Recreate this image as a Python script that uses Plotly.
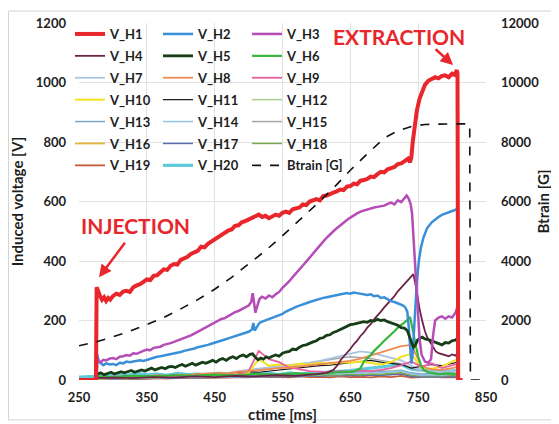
import plotly.graph_objects as go

# ---------------- data ----------------
# major induced-voltage traces: (ctime [ms], voltage [V]) pairs
H1 = [(250, 0), (274, 0), (275, 0), (276, 312), (278, 296), (281, 283), (284, 270), (287, 278), (290, 266),
      (293, 276), (296, 270), (300, 282), (305, 290), (310, 286), (315, 297), (320, 300), (325, 296), (330, 312),
      (335, 318), (340, 322), (345, 330), (350, 338), (355, 336), (360, 350), (365, 352), (370, 360), (375, 372),
      (380, 370), (385, 384), (390, 390), (395, 388), (400, 404), (405, 410), (410, 414), (415, 424), (420, 428),
      (425, 434), (430, 448), (435, 446), (440, 458), (445, 466), (450, 470), (455, 482), (460, 486), (465, 494),
      (470, 502), (475, 506), (480, 518), (485, 520), (490, 530), (495, 534), (500, 540), (505, 546), (510, 550),
      (515, 556), (520, 548), (525, 552), (530, 544), (535, 550), (540, 556), (545, 552), (550, 562), (555, 566),
      (560, 562), (565, 574), (570, 578), (575, 580), (580, 590), (585, 588), (590, 600), (595, 604), (600, 608),
      (605, 604), (610, 618), (615, 620), (620, 626), (625, 630), (630, 634), (635, 640), (640, 638), (645, 650),
      (650, 652), (655, 660), (660, 658), (665, 670), (670, 672), (675, 676), (680, 684), (685, 682), (690, 692),
      (695, 700), (700, 698), (705, 708), (710, 712), (715, 716), (720, 726), (725, 728), (730, 736), (735, 744),
      (738, 732), (740, 750), (742, 800), (745, 860), (748, 905), (752, 945), (756, 972), (760, 992), (765, 1006),
      (770, 1012), (775, 1018), (780, 1014), (785, 1022), (790, 1024), (795, 1018), (800, 1030), (804, 1026),
      (807, 1042), (808, 1030), (809, 0), (815, 0)]

H2 = [(276, 0), (277, 86), (279, 62), (282, 56), (286, 50), (290, 56), (295, 52), (300, 54), (305, 50), (310, 58),
      (315, 56), (320, 62), (325, 60), (330, 62), (335, 64), (340, 66), (345, 64), (350, 68), (355, 72), (360, 74),
      (365, 78), (370, 80), (375, 82), (380, 84), (385, 88), (390, 90), (395, 92), (400, 94), (405, 98), (410, 100),
      (415, 104), (420, 106), (425, 110), (430, 112), (435, 116), (440, 118), (445, 122), (450, 125), (455, 128),
      (460, 132), (465, 136), (470, 140), (475, 144), (480, 148), (485, 152), (490, 155), (495, 158), (500, 162),
      (505, 170), (507, 192), (509, 166), (512, 178), (516, 192), (520, 196), (525, 200), (530, 205), (535, 208),
      (540, 212), (545, 218), (550, 222), (555, 230), (560, 236), (565, 240), (570, 246), (575, 250), (580, 255),
      (585, 258), (590, 262), (595, 266), (600, 270), (605, 272), (610, 276), (615, 278), (620, 280), (625, 284),
      (630, 285), (635, 286), (640, 288), (645, 292), (650, 290), (655, 294), (660, 292), (665, 290), (670, 290),
      (675, 286), (680, 288), (685, 282), (690, 284), (695, 276), (700, 278), (705, 270), (710, 265), (715, 262),
      (720, 258), (725, 252), (728, 250), (731, 244), (734, 230), (736, 180), (738, 100), (740, 55), (742, 90),
      (744, 170), (746, 260), (748, 330), (751, 400), (754, 445), (758, 480), (763, 510), (770, 530), (775, 540),
      (780, 548), (785, 555), (790, 560), (795, 565), (800, 568), (805, 572), (808, 578), (809, 0), (815, 0)]

H3 = [(276, 0), (277, 72), (279, 64), (282, 60), (286, 68), (290, 66), (295, 72), (300, 74), (305, 70), (310, 78),
      (315, 80), (320, 84), (325, 82), (330, 90), (335, 88), (340, 94), (345, 98), (350, 102), (355, 100), (360, 108),
      (365, 110), (370, 112), (375, 118), (380, 120), (385, 124), (390, 128), (395, 132), (400, 136), (405, 140),
      (410, 146), (415, 150), (420, 156), (425, 162), (430, 168), (435, 174), (440, 180), (445, 186), (450, 192),
      (455, 200), (460, 205), (465, 208), (470, 215), (475, 222), (480, 228), (485, 232), (490, 238), (495, 244),
      (500, 250), (504, 262), (506, 292), (508, 262), (510, 226), (513, 250), (516, 272), (520, 280), (525, 274),
      (530, 284), (535, 278), (540, 288), (545, 296), (550, 310), (555, 320), (560, 332), (565, 346), (570, 360),
      (575, 372), (580, 385), (585, 398), (590, 412), (595, 426), (600, 440), (605, 452), (610, 465), (615, 478),
      (620, 490), (625, 500), (630, 510), (635, 520), (640, 530), (645, 538), (650, 546), (655, 554), (660, 560),
      (665, 566), (670, 570), (675, 572), (680, 576), (685, 580), (690, 582), (695, 584), (700, 586), (705, 592),
      (710, 596), (715, 590), (720, 604), (725, 598), (730, 612), (733, 620), (736, 610), (739, 590), (741, 560),
      (743, 480), (746, 370), (749, 250), (752, 140), (755, 85), (760, 62), (765, 58), (769, 70), (772, 150),
      (775, 200), (780, 210), (785, 214), (790, 206), (795, 214), (800, 210), (805, 226), (807, 240), (808, 250),
      (809, 5), (815, 0)]

H4 = [(275, 0), (277, 6), (300, 8), (330, 6), (360, 10), (390, 8), (420, 12), (450, 10), (480, 14), (510, 12),
      (540, 16), (570, 14), (600, 20), (615, 24), (625, 34), (632, 52), (636, 68), (640, 78), (645, 92), (650, 104),
      (655, 120), (660, 132), (665, 148), (670, 160), (675, 176), (680, 188), (685, 204), (690, 216), (695, 230),
      (700, 244), (705, 256), (710, 270), (715, 282), (720, 298), (725, 310), (730, 324), (735, 336), (740, 348),
      (743, 356), (746, 322), (749, 280), (752, 240), (756, 198), (760, 164), (764, 140), (768, 124), (772, 108),
      (776, 96), (780, 90), (785, 86), (790, 84), (795, 80), (800, 86), (805, 82), (808, 90), (809, 0)]

H5 = [(275, 0), (277, 20), (282, 24), (287, 18), (292, 22), (297, 26), (302, 20), (307, 24), (312, 28), (317, 24),
      (322, 28), (327, 32), (332, 26), (337, 30), (342, 34), (347, 30), (352, 36), (357, 40), (362, 34), (367, 38),
      (372, 42), (377, 38), (382, 44), (387, 46), (392, 42), (397, 48), (402, 52), (407, 46), (412, 52), (417, 56),
      (422, 50), (427, 56), (432, 60), (437, 56), (442, 62), (447, 66), (452, 60), (457, 68), (462, 72), (467, 66),
      (472, 74), (477, 78), (482, 72), (487, 80), (492, 84), (497, 78), (502, 86), (506, 88), (510, 76), (514, 68),
      (518, 74), (522, 70), (526, 78), (530, 74), (535, 80), (540, 84), (545, 80), (550, 90), (555, 94), (560, 96),
      (565, 104), (570, 102), (575, 110), (580, 116), (585, 118), (590, 124), (595, 128), (600, 132), (605, 140),
      (610, 142), (615, 150), (620, 152), (625, 160), (630, 164), (635, 170), (640, 176), (645, 180), (650, 186),
      (655, 188), (660, 190), (665, 192), (670, 196), (675, 194), (680, 200), (685, 198), (690, 204), (695, 200),
      (700, 202), (705, 196), (710, 192), (715, 186), (720, 184), (725, 176), (730, 174), (734, 166), (737, 150),
      (740, 128), (743, 110), (746, 118), (749, 134), (752, 140), (756, 144), (760, 138), (765, 136), (770, 132),
      (775, 126), (780, 122), (785, 118), (790, 126), (795, 124), (800, 132), (805, 134), (808, 140), (809, 0)]

H6 = [(275, 0), (277, 12), (300, 10), (330, 14), (360, 12), (390, 16), (420, 14), (450, 18), (480, 16), (510, 20),
      (540, 18), (570, 22), (600, 20), (630, 26), (655, 28), (665, 40), (670, 62), (675, 72), (680, 84), (685, 98),
      (690, 108), (695, 120), (700, 132), (705, 142), (710, 152), (715, 164), (720, 176), (725, 184), (730, 194),
      (735, 204), (738, 212), (741, 180), (744, 140), (747, 110), (750, 80), (754, 50), (758, 34), (765, 26),
      (780, 20), (795, 22), (808, 18), (809, 0)]

# minor traces share one time base
T_MINOR = [250, 275, 276, 290, 305, 320, 335, 350, 365, 380,
           395, 410, 425, 440, 455, 470, 485, 500, 515, 530,
           545, 560, 575, 590, 605, 620, 635, 650, 665, 680,
           695, 710, 725, 740, 755, 770, 785, 800, 808, 809]
V_H7 = [0, 0, 8, 10, 12, 9, 14, 12, 15, 13,
        18, 16, 20, 22, 25, 24, 30, 34, 38, 40,
        44, 48, 52, 58, 64, 72, 80, 88, 96, 92,
        84, 76, 66, 48, 30, 28, 26, 30, 28, 0]
V_H8 = [0, 0, 10, 8, 12, 10, 14, 12, 16, 14,
        18, 16, 20, 22, 24, 22, 28, 30, 34, 38,
        40, 42, 46, 48, 52, 56, 60, 64, 72, 82,
        94, 104, 114, 118, 45, 36, 34, 40, 44, 0]
V_H9 = [0, 0, 6, 8, 6, 10, 8, 10, 12, 10,
        14, 12, 16, 14, 18, 16, 20, 30, 98, 70,
        60, 42, 36, 30, 28, 26, 30, 28, 32, 30,
        34, 40, 50, 62, 44, 56, 40, 50, 54, 0]
V_H10 = [0, 0, 4, 6, 8, 6, 8, 10, 8, 12,
         10, 12, 14, 16, 14, 18, 20, 24, 70, 48,
         52, 48, 55, 52, 58, 55, 60, 58, 62, 56,
         52, 60, 78, 88, 40, 38, 45, 62, 70, 0]
V_H11 = [0, 0, 10, 12, 8, 14, 10, 12, 16, 14,
         18, 15, 20, 18, 22, 20, 24, 28, 26, 30,
         34, 38, 40, 44, 48, 50, 55, 58, 62, 66,
         60, 56, 52, 40, 45, 52, 48, 56, 60, 0]
V_H12 = [0, 0, 5, 8, 6, 10, 7, 9, 11, 8,
         12, 10, 13, 11, 14, 12, 15, 18, 16, 20,
         18, 22, 20, 24, 22, 26, 24, 28, 26, 30,
         28, 32, 34, 22, 18, 20, 18, 22, 20, 0]
V_H13 = [0, 0, 6, 5, 8, 6, 9, 7, 10, 8,
         11, 9, 12, 10, 13, 11, 14, 16, 14, 18,
         16, 20, 18, 22, 20, 24, 22, 26, 28, 26,
         30, 28, 32, 24, 20, 22, 20, 24, 22, 0]
V_H14 = [0, 0, 4, 6, 5, 7, 6, 8, 7, 9,
         8, 10, 9, 11, 10, 12, 11, 14, 12, 16,
         14, 18, 16, 20, 18, 22, 20, 24, 22, 26,
         24, 28, 30, 20, 16, 18, 16, 20, 18, 0]
V_H15 = [0, 0, 8, 10, 9, 12, 10, 13, 11, 14,
         12, 15, 16, 18, 20, 22, 24, 28, 32, 36,
         40, 46, 52, 58, 64, 70, 74, 78, 76, 72,
         66, 60, 55, 40, 30, 28, 26, 28, 30, 0]
V_H16 = [0, 0, 3, 5, 4, 6, 5, 7, 6, 8,
         7, 9, 8, 10, 9, 11, 10, 12, 11, 13,
         12, 14, 13, 15, 14, 16, 15, 17, 16, 18,
         17, 19, 22, 14, 12, 13, 12, 14, 13, 0]
V_H17 = [0, 0, 2, 4, 3, 5, 4, 6, 5, 7,
         6, 8, 7, 9, 8, 10, 9, 11, 10, 12,
         11, 13, 12, 14, 13, 15, 14, 16, 15, 17,
         16, 18, 20, 12, 10, 11, 10, 12, 11, 0]
V_H18 = [0, 0, 4, 5, 7, 6, 8, 7, 9, 8,
         10, 9, 11, 10, 12, 11, 13, 14, 13, 15,
         14, 16, 15, 17, 16, 18, 17, 19, 18, 20,
         19, 21, 24, 16, 14, 15, 14, 16, 15, 0]
V_H19 = [0, 0, 2, 3, 4, 3, 5, 4, 6, 5,
         7, 6, 8, 7, 9, 8, 10, 9, 12, 10,
         11, 9, 12, 10, 11, 9, 12, 10, 11, 9,
         12, 10, 14, 8, 10, 12, 9, 11, 10, 0]
V_H20 = [10, 12, 18, 14, 20, 16, 22, 18, 20, 16,
         22, 18, 20, 17, 22, 19, 21, 24, 20, 22,
         18, 24, 20, 22, 26, 28, 30, 32, 36, 40,
         44, 48, 52, 36, 32, 30, 28, 30, 32, 0]

# Btrain [G] on the right axis
BTRAIN = [(250, 1150), (275, 1280), (300, 1450), (325, 1640), (350, 1860), (375, 2100), (400, 2390), (425, 2700),
          (450, 3050), (475, 3450), (500, 3900), (525, 4350), (550, 4850), (575, 5370), (600, 5900), (625, 6450),
          (650, 7050), (675, 7600), (700, 8130), (720, 8380), (740, 8520), (760, 8590), (780, 8610), (800, 8610),
          (826, 8610), (827, 0), (850, 0)]

X_TICKS = [250, 350, 450, 550, 650, 750, 850]
Y_TICKS = [0, 200, 400, 600, 800, 1000, 1200]
Y2_TICKS = [0, 2000, 4000, 6000, 8000, 10000, 12000]

# ---------------- styling ----------------
FONT = "Lato"
RED = "#E8262B"
STYLE = {  # name: (color, width, legend column, rank)
    "V_H1": ("#E8262B", 4.0, "legend", 1), "V_H2": ("#3A8FD9", 2.5, "legend2", 2), "V_H3": ("#B54CB8", 2.5, "legend3", 3),
    "V_H4": ("#6B2447", 1.8, "legend", 4), "V_H5": ("#173D17", 2.8, "legend2", 5), "V_H6": ("#37B43A", 2.2, "legend3", 6),
    "V_H7": ("#A9C3E3", 1.8, "legend", 7), "V_H8": ("#F08A50", 1.8, "legend2", 8), "V_H9": ("#EA5FA3", 1.8, "legend3", 9),
    "V_H10": ("#F3E21E", 2.0, "legend", 10), "V_H11": ("#151515", 1.2, "legend2", 11), "V_H12": ("#A9D08E", 1.5, "legend3", 12),
    "V_H13": ("#7EA6CA", 1.5, "legend", 13), "V_H14": ("#92C4E8", 1.5, "legend2", 14), "V_H15": ("#A6A6A6", 1.5, "legend3", 15),
    "V_H16": ("#E3B43A", 1.8, "legend", 16), "V_H17": ("#5A6EAE", 1.5, "legend2", 17), "V_H18": ("#77AA4E", 1.5, "legend3", 18),
    "V_H19": ("#C65A3C", 1.8, "legend", 19), "V_H20": ("#5FCADC", 3.2, "legend2", 20),
}

fig = go.Figure()


def add(name, xs, ys):
    color, width, leg, rank = STYLE[name]
    fig.add_trace(go.Scatter(x=xs, y=ys, mode="lines", name=name,
                             line=dict(color=color, width=width),
                             legend=leg, legendgroup=name, legendrank=rank))


def add_pairs(name, pairs):
    add(name, [p[0] for p in pairs], [p[1] for p in pairs])


# drawing order: low clutter first, big traces on top
minor = {"V_H19": V_H19, "V_H16": V_H16, "V_H17": V_H17, "V_H18": V_H18, "V_H12": V_H12,
         "V_H13": V_H13, "V_H14": V_H14, "V_H20": V_H20, "V_H15": V_H15, "V_H7": V_H7,
         "V_H11": V_H11, "V_H10": V_H10, "V_H9": V_H9, "V_H8": V_H8}
for n, v in minor.items():
    add(n, T_MINOR, v)
add_pairs("V_H6", H6)
add_pairs("V_H4", H4)
add_pairs("V_H2", H2)
add_pairs("V_H5", H5)
add_pairs("V_H3", H3)
add_pairs("V_H1", H1)

fig.add_trace(go.Scatter(x=[p[0] for p in BTRAIN], y=[p[1] for p in BTRAIN], mode="lines",
                         name="Btrain [G]", yaxis="y2",
                         line=dict(color="#111111", width=1.6, dash="dash"),
                         legend="legend3", legendgroup="Btrain", legendrank=21))

GRID = "#E2E2E2"
tickfont = dict(family=FONT, size=13, color="#1E1E1E", weight="bold")
titlefont = dict(family=FONT, size=15, color="#1E1E1E", weight="bold")
legfont = dict(family=FONT, size=13, color="#1E1E1E", weight="bold")

# the page body has the browser's default 8px margin: the figure starts at window (8, 8)
OFF = 8
FW, FH = 559 - OFF, 424 - OFF
PW, PH = 407, 358
L, T = 79 - OFF, 22 - OFF


def px_x(wx):  # window pixel -> paper x
    return (wx - OFF - L) / PW


def px_y(wy):  # window pixel -> paper y
    return (T + PH - (wy - OFF)) / PH


leg_common = dict(y=px_y(19), yanchor="top", xanchor="left", bgcolor="rgba(0,0,0,0)",
                  font=legfont, tracegroupgap=2, itemwidth=30, orientation="v")

fig.update_layout(
    template="none",
    width=FW, height=FH,
    margin=dict(l=L, r=FW - L - PW, t=T, b=FH - T - PH, pad=0),
    paper_bgcolor="white", plot_bgcolor="white",
    font=dict(family=FONT, size=13, color="#1E1E1E"),
    xaxis=dict(range=[250, 850], tickvals=X_TICKS, showgrid=True, gridcolor=GRID, gridwidth=1,
               zeroline=False, showline=False, ticks="", tickfont=tickfont, ticklabelstandoff=8,
               automargin=False,
               title=dict(text="ctime [ms]", font=titlefont, standoff=2)),
    yaxis=dict(range=[0, 1200], tickvals=Y_TICKS, showgrid=True, gridcolor=GRID, gridwidth=1,
               zeroline=False, showline=False, ticks="", tickfont=tickfont, ticklabelstandoff=12,
               automargin=False,
               title=dict(text="Induced voltage [V]", font=titlefont, standoff=10)),
    yaxis2=dict(range=[0, 12000], tickvals=Y2_TICKS, tickformat="d", overlaying="y", side="right",
                showgrid=False, zeroline=False, showline=False, ticks="", tickfont=tickfont,
                ticklabelstandoff=14, automargin=False,
                title=dict(text="Btrain [G]", font=titlefont, standoff=0)),
    showlegend=True,
    legend=dict(x=px_x(70), **leg_common),
    legend2=dict(x=px_x(158), **leg_common),
    legend3=dict(x=px_x(247), **leg_common),
    shapes=[
        # white area behind the legend (hides gridlines as in the original)
        dict(type="rect", xref="paper", yref="paper", x0=0, x1=px_x(360), y0=px_y(178), y1=1,
             fillcolor="white", line=dict(width=0), layer="between"),
        # light frame around the whole chart
        dict(type="rect", xref="paper", yref="paper", x0=px_x(8.5), x1=px_x(553), y0=px_y(420), y1=px_y(10),
             line=dict(color="#D4D4D4", width=1), fillcolor="rgba(0,0,0,0)", layer="below"),
    ],
    annotations=[
        dict(text="INJECTION", x=334, y=519, xref="x", yref="y", showarrow=False,
             font=dict(family=FONT, size=21, color=RED, weight="bold")),
        dict(text="EXTRACTION", x=722, y=1156, xref="x", yref="y", showarrow=False,
             font=dict(family=FONT, size=21, color=RED, weight="bold")),
        dict(text="", x=279.5, y=345, xref="x", yref="y", showarrow=True, ax=27, ay=-36,
             arrowhead=2, arrowsize=1, arrowwidth=2.5, arrowcolor=RED, standoff=0),
        dict(text="", x=801.5, y=1059, xref="x", yref="y", showarrow=True, ax=-19, ay=-17,
             arrowhead=2, arrowsize=1, arrowwidth=2.5, arrowcolor=RED, standoff=0),
    ],
)

fig.write_html("out.html")
